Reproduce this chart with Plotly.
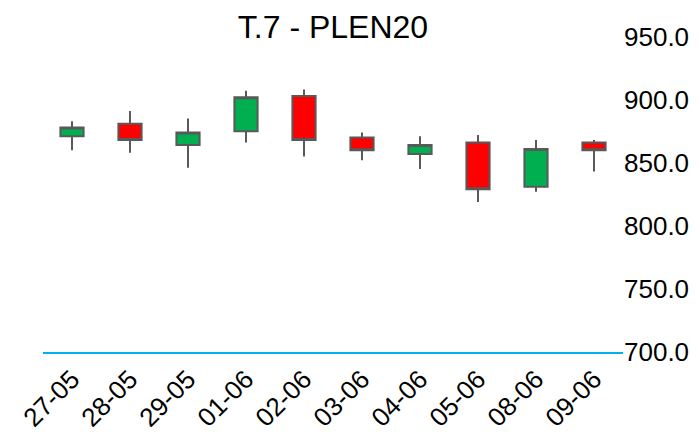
import plotly.graph_objects as go

dates = ["27-05", "28-05", "29-05", "01-06", "02-06", "03-06", "04-06", "05-06", "08-06", "09-06"]
open_ = [871, 881, 864, 875, 903, 870, 857, 866, 831, 866]
high = [883, 891, 885, 907, 908, 874, 871, 872, 868, 868]
low = [860, 858, 846, 866, 855, 852, 845, 819, 827, 843]
close = [878, 868, 874, 902, 868, 860, 864, 829, 861, 860]

fig = go.Figure(go.Candlestick(
    x=dates, open=open_, high=high, low=low, close=close,
    increasing=dict(fillcolor="#00b050", line=dict(color="#595959", width=2)),
    decreasing=dict(fillcolor="#ff0000", line=dict(color="#595959", width=2)),
    whiskerwidth=0, showlegend=False,
))

fig.update_layout(
    width=690, height=426,
    margin=dict(l=35, r=75, t=16, b=82, autoexpand=False),
    paper_bgcolor="white", plot_bgcolor="white",
    font=dict(family="Liberation Sans, Arial", color="black", size=26),
    title=dict(text="T.7 - PLEN20", xref="paper", x=0.5, xanchor="center",
               yref="container", y=0.955, yanchor="middle",
               font=dict(size=32, color="black")),
    boxgap=0.6, boxgroupgap=0,
    xaxis=dict(type="category", rangeslider=dict(visible=False), showgrid=False,
               showline=True, linecolor="#00b0f0", linewidth=1.5, ticks="",
               tickangle=-45, tickfont=dict(size=26), range=[-0.5, 9.5], automargin=False),
    yaxis=dict(side="right", range=[700, 960], tickvals=[700, 750, 800, 850, 900, 950],
               tickformat=".1f", showgrid=False, zeroline=False, showline=False,
               ticks="", tickfont=dict(size=26), automargin=False),
)

fig.write_html("out.html")
